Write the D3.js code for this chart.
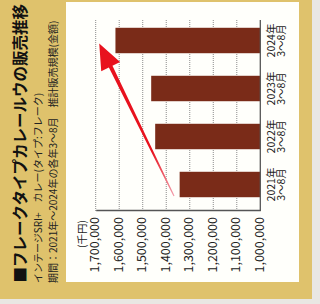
<!DOCTYPE html>
<html><head><meta charset="utf-8">
<script src="https://cdn.jsdelivr.net/npm/d3@7"></script>
<style>html,body{margin:0;padding:0;background:#e9e7e3;overflow:hidden}svg{display:block}</style>
</head><body><svg id="c" width="320" height="304"></svg>
<script>
// ---- data ----
const categories = ["2021", "2022", "2023", "2024"];
const yearLabels = ["2021年", "2022年", "2023年", "2024年"];
const periodLabels = ["3～8月", "3～8月", "3～8月", "3～8月"];
const values = [1343000, 1447000, 1464000, 1616000];
const tickValues = [1000000, 1100000, 1200000, 1300000, 1400000, 1500000, 1600000, 1700000];
const titleText = "■フレークタイプカレールウの販売推移";
const subtitle1 = "インテージSRI+　カレー(タイプ:フレーク)";
const subtitle2 = "期間：2021年～2024年の各年3～8月　推計販売規模(金額)";
const unitLabel = "(千円)";
// arrow annotation (from / to in data terms)
const arrowFrom = {cat: "2021", value: 1367000, shift: -0.24};
const arrowTo = {cat: "2024", value: 1685000, shift: -0.06};

const FONT = "'Noto Sans CJK JP','Noto Sans',sans-serif";
const svg = d3.select("#c");

// frame
svg.append("rect").attr("x", 0).attr("y", 0).attr("width", 312).attr("height", 299).attr("fill", "#dfc26c");
svg.append("rect").attr("x", 66).attr("y", 2).attr("width", 233).attr("height", 280).attr("fill", "#fffffb");

// rotated chart group (chart drawn upright then turned 90° counter-clockwise)
const g = svg.append("g").attr("transform", "translate(0,304) rotate(-90)");

const x = d3.scaleBand().domain(categories).range([95.5, 287.5]).paddingInner(0.47).paddingOuter(0.235);
const y = d3.scaleLinear().domain([1000000, 1700000]).range([260.3, 95.7]);
const plotLeft = 93, plotRight = 284;

// gridlines
g.append("g").selectAll("line").data(tickValues.filter(t => t > 1000000)).join("line")
  .attr("x1", plotLeft).attr("x2", plotRight)
  .attr("y1", d => y(d)).attr("y2", d => y(d))
  .attr("stroke", "#8c8c8c").attr("stroke-width", 1).attr("stroke-dasharray", "1,1");

// bars
g.append("g").selectAll("rect").data(values).join("rect")
  .attr("x", (d, i) => x(categories[i]))
  .attr("width", x.bandwidth())
  .attr("y", d => y(d))
  .attr("height", d => y(1000000) - y(d))
  .attr("fill", "#7a2b18");

// value axis
const ax = g.append("g").attr("transform", `translate(${plotLeft},0)`)
  .call(d3.axisLeft(y).tickValues(tickValues).tickSize(0).tickSizeOuter(0).tickPadding(6).tickFormat(d3.format(",")));
ax.select(".domain").attr("stroke", "#555").attr("stroke-width", 1.3);
ax.selectAll("text").attr("font-family", FONT).attr("font-size", 12.5).attr("fill", "#222").attr("dy", "0.25em");

// baseline
g.append("line").attr("x1", plotLeft).attr("x2", plotRight)
  .attr("y1", y(1000000)).attr("y2", y(1000000)).attr("stroke", "#555").attr("stroke-width", 1.3);

// category labels
const cl = g.append("g").selectAll("text").data(categories).join("text")
  .attr("font-family", FONT).attr("font-size", 10.5).attr("fill", "#222").attr("text-anchor", "middle");
cl.append("tspan").attr("x", d => x(d) + x.bandwidth() / 2).attr("y", 274.8).text((d, i) => yearLabels[i]);
cl.append("tspan").attr("x", d => x(d) + x.bandwidth() / 2).attr("y", 284.8).text((d, i) => periodLabels[i]);

// unit
g.append("text").attr("x", 84).attr("y", 86).attr("text-anchor", "end")
  .attr("font-family", FONT).attr("font-size", 10.5).attr("fill", "#222").text(unitLabel);

// titles
g.append("text").attr("x", 21.5).attr("y", 26).attr("font-family", FONT).attr("font-size", 15.5)
  .attr("font-weight", 700).attr("fill", "#111").text(titleText);
g.append("text").attr("x", 21).attr("y", 41.5).attr("font-family", FONT).attr("font-size", 10)
  .attr("fill", "#222").text(subtitle1);
g.append("text").attr("x", 21).attr("y", 56.5).attr("font-family", FONT).attr("font-size", 10)
  .attr("fill", "#222").text(subtitle2);

// arrow
const step = x.step(), bw = x.bandwidth();
const tail = [x(arrowFrom.cat) + bw / 2 + arrowFrom.shift * step, y(arrowFrom.value)];
const tip = [x(arrowTo.cat) + bw / 2 + arrowTo.shift * step, y(arrowTo.value)];
const dx = tip[0] - tail[0], dy = tip[1] - tail[1], L = Math.hypot(dx, dy);
const u = [dx / L, dy / L], n = [-u[1], u[0]];
const headLen = 26, headHalf = 10.5, w0 = 0.6, w1 = 2;
const base = [tip[0] - u[0] * headLen, tip[1] - u[1] * headLen];
const P = (p, k) => [p[0] + n[0] * k, p[1] + n[1] * k];
const pts = [P(tail, w0), P(base, w1), P(base, headHalf), tip, P(base, -headHalf), P(base, -w1), P(tail, -w0)];
const grad = svg.append("defs").append("linearGradient").attr("id", "ag").attr("gradientUnits", "userSpaceOnUse")
  .attr("x1", tail[0]).attr("y1", tail[1]).attr("x2", tail[0] + u[0] * 50).attr("y2", tail[1] + u[1] * 50);
grad.append("stop").attr("offset", 0).attr("stop-color", "#f3a0ae");
grad.append("stop").attr("offset", 1).attr("stop-color", "#e8121e");
g.append("path").attr("d", d3.line()(pts) + "Z").attr("fill", "url(#ag)");
</script></body></html>
